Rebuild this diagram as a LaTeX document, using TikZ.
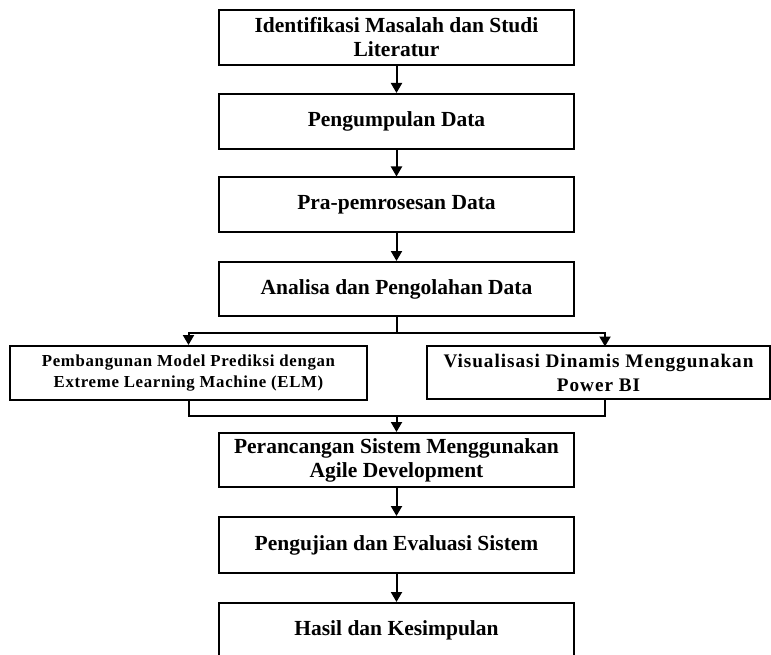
\documentclass[tikz,border=0pt]{standalone}
\usepackage{fontspec}
\setmainfont{Liberation Serif}
\usetikzlibrary{arrows.meta,calc}
\begin{document}
\begin{tikzpicture}[x=1pt,y=-1pt,
  box/.style={draw=black,line width=2pt,rectangle,align=center,inner sep=0pt,
    font=\bfseries\fontsize{21.5}{24}\selectfont},
  mainbox/.style={box,minimum width=355pt,minimum height=55pt},
  conn/.style={line width=2pt},
  arr/.style={conn,-{Triangle[width=11pt,length=10pt]}}]
\useasboundingbox (0,0) rectangle (771,655);
\begin{scope}
\clip (0,0) rectangle (771,655);
\node[mainbox] (b1) at (396.5,37.5) {Identifikasi Masalah dan Studi\\Literatur};
\node[mainbox] (b2) at (396.5,121.5) {Pengumpulan Data};
\node[mainbox] (b3) at (396.5,205) {Pra-pemrosesan Data};
\node[mainbox,minimum height=54pt] (b4) at (396.5,289) {Analisa dan Pengolahan Data};
\node[box,minimum width=357pt,minimum height=54pt,font=\bfseries\fontsize{16.8}{21}\selectfont] (l) at (188.5,373)
  {\addfontfeatures{LetterSpace=4}Pembangunan Model Prediksi dengan\\\addfontfeatures{LetterSpace=4}Extreme Learning Machine (ELM)};
\node[box,minimum width=343pt,minimum height=53pt,font=\bfseries\fontsize{19.2}{24}\selectfont] (r) at (598.5,372.5)
  {\addfontfeatures{LetterSpace=5}Visualisasi Dinamis Menggunakan\\\addfontfeatures{LetterSpace=5}Power BI};
\node[mainbox,minimum height=54pt] (b5) at (396.5,460) {Perancangan Sistem Menggunakan\\Agile Development};
\node[mainbox,minimum height=56pt] (b6) at (396.5,545) {Pengujian dan Evaluasi Sistem};
\node[mainbox] (b7) at (396.5,630.5) {Hasil dan Kesimpulan};
\end{scope}
\coordinate (split) at (396.5,333);
\coordinate (rin) at (605,346.5);
\coordinate (rout) at (605,399);
\coordinate (merge) at (396.5,415.5);
\draw[arr] (b1) -- (b2);
\draw[arr] (b2) -- (b3);
\draw[arr] (b3) -- (b4);
\draw[conn] (b4.south) -- (split);
\draw[arr] (split) -| (l.north);
\draw[arr] (split) -| (rin);
\draw[conn] (l.south) |- (merge);
\draw[conn] (rout) |- (merge);
\draw[arr] (merge) -- (b5.north);
\draw[arr] (b5) -- (b6);
\draw[arr] (b6) -- (b7);
\end{tikzpicture}
\end{document}
